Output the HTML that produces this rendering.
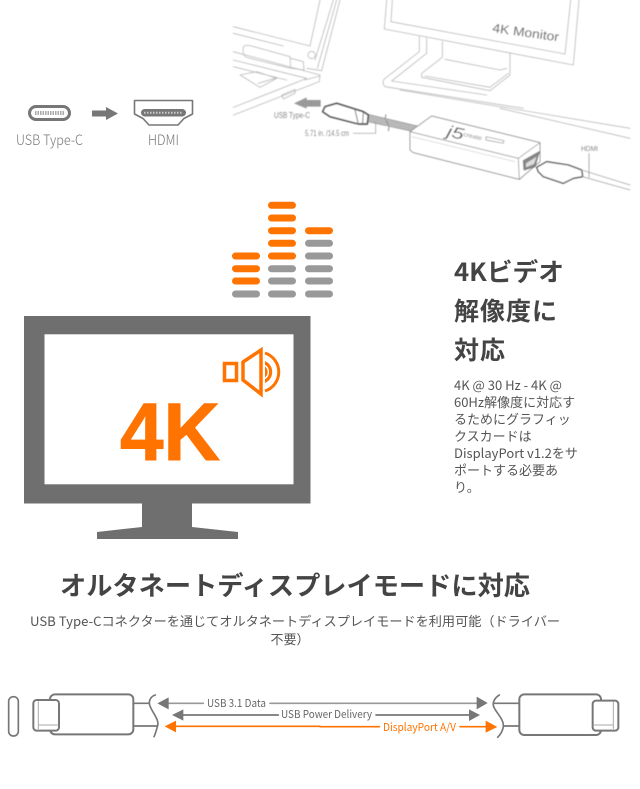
<!DOCTYPE html>
<html lang="ja"><head><meta charset="utf-8"><style>
html,body{margin:0;padding:0;background:#fff}
svg{display:block}
.j{font-family:"Noto Sans CJK JP","Liberation Sans",sans-serif}
.l{font-family:"Liberation Sans","Noto Sans CJK JP",sans-serif}
</style></head><body>
<svg width="640" height="789" viewBox="0 0 640 789" xmlns="http://www.w3.org/2000/svg">
<defs><filter id="b" x="-5%" y="-5%" width="110%" height="110%"><feGaussianBlur stdDeviation="0.4"/></filter>
<filter id="s" x="-5%" y="-5%" width="110%" height="110%"><feGaussianBlur stdDeviation="0.25"/></filter></defs>
<rect width="640" height="789" fill="#fff"/>

<!-- USB-C to HDMI -->
<g filter="url(#s)">
<rect x="29.500" y="106.500" width="40" height="13" rx="6.500" fill="#fff" stroke="#777" stroke-width="3"/>
<line x1="35" y1="113" x2="64" y2="113" stroke="#aaa" stroke-width="4" stroke-dasharray="1.500 1"/>
<path d="M92 110.500H106V107L118 113.500L106 120V116.500H92Z" fill="#777"/>
<path d="M134.500 100.500H192.500V114L184 118.500L178 125H149L143 118.500L134.500 114Z" fill="#fff" stroke="#777" stroke-width="1.600" stroke-linejoin="round"/>
<rect x="141" y="109" width="45" height="7.500" rx="3.700" fill="#777"/>
<line x1="144" y1="112.700" x2="183" y2="112.700" stroke="#ccc" stroke-width="2" stroke-dasharray="1.500 1.500"/>
<text x="16" y="145" font-size="14" fill="#777" class="j" font-weight="300" textLength="67" lengthAdjust="spacingAndGlyphs">USB Type-C</text>
<text x="148" y="145" font-size="14" fill="#777" class="j" font-weight="300" textLength="31" lengthAdjust="spacingAndGlyphs">HDMI</text>
</g>

<!-- Top-right line art -->
<g filter="url(#b)">
<!-- laptop -->
<g transform="translate(230,0) scale(.33333)" fill="none" stroke="#bbb" stroke-width="2.500" stroke-linejoin="round" stroke-linecap="round">
  <path d="M270 0L240 138L10 80M10 100L160 138M330 0L275 212L230 205M320 0L262 205M310 0L255 180"/>
  <circle cx="245" cy="165" r="11"/>
  <path d="M40 142C42 136 50 135 60 137L180 170L182 205L50 172C40 168 38 155 40 142Z" fill="#fff"/>
  <path d="M182 175L220 185L222 210L185 205"/>
  <path d="M10 155L270 225L268 245L10 345M10 180L230 235L10 322M10 200L170 240M30 225L80 215L140 235L90 262ZM85 250L135 235M155 285L195 268V280L160 297Z"/>
  <path d="M225 240L268 228" />
</g>
<g transform="translate(230,0) scale(.33333)" stroke-linejoin="round" stroke-linecap="round">
  <path d="M192 310L230 292V300H272V320H230V326Z" fill="#999"/>
  <path d="M415 343L562 378L556 396L412 365Z" fill="#b8b8b8" stroke="#999" stroke-width="2"/>
  <path d="M285 320L320 310L400 335L415 345L412 372L385 372L300 350L278 335Z" fill="#fff" stroke="#555" stroke-width="5"/>
  <path d="M375 330L385 372M400 338L398 370" fill="none" stroke="#777" stroke-width="3"/>
  <path d="M468 345C460 360 482 372 475 392" fill="#fff" stroke="#888" stroke-width="3"/>
  <path d="M370 400H437V365" fill="none" stroke="#999" stroke-width="2"/>
</g>
<!-- monitor -->
<g transform="translate(380,0) scale(.33333)" fill="none" stroke="#bbb" stroke-width="2.500" stroke-linejoin="round" stroke-linecap="round">
  <path d="M20 0L13 87L580 195L597 0M37 0L33 65L555 162L572 0"/>
  <path d="M118 108V155L12 238Q5 250 15 260L430 325M140 115V160L35 243L320 285M187 125V172L125 220V232L330 272L390 225V160M195 178L360 210L380 205M135 228L330 262L385 220"/>
</g>
<!-- adapter -->
<g transform="translate(400,90) scale(.33333)" stroke-linejoin="round" stroke-linecap="round">
  <path d="M0 0L690 115M300 55L690 145" fill="none" stroke="#bbb" stroke-width="2.500"/>
  <path d="M95 78L420 158V215L358 268L40 188L30 180V125Z" fill="#fff" stroke="#999" stroke-width="3"/>
  <path d="M30 125L355 205L420 158M355 205L358 268" fill="none" stroke="#999" stroke-width="2.500"/>
  <path d="M36 140L345 215" fill="none" stroke="#ccc" stroke-width="2"/>
  <path d="M370 212L418 185L405 230L372 240Z" fill="#888" stroke="#777" stroke-width="3"/>
  <path d="M378 220L410 200L402 222L378 232Z" fill="#ddd"/>
  <path d="M258 140L312 152L310 160L258 150Z" fill="none" stroke="#888" stroke-width="2"/>
  <path d="M410 232L440 215L505 225L545 240L548 260L520 265L490 280L430 260L415 245Z" fill="#fff" stroke="#555" stroke-width="4"/>
  <path d="M545 240L690 285M548 260L690 300" fill="none" stroke="#aaa" stroke-width="2.500"/>
  <path d="M567 190V262" fill="none" stroke="#888" stroke-width="2"/>
</g>
<g class="l" fill="#888">
  <text x="274" y="118" font-size="8" textLength="36" lengthAdjust="spacingAndGlyphs">USB Type-C</text>
  <text x="305" y="136" font-size="8" textLength="44" lengthAdjust="spacingAndGlyphs">5.71 in. /14.5 cm</text>
  <text x="581" y="151" font-size="7.500" textLength="17" lengthAdjust="spacingAndGlyphs">HDMI</text>
  <text x="492" y="32" font-size="12.500" fill="#777" transform="rotate(8 492 32)" textLength="67" lengthAdjust="spacingAndGlyphs">4K Monitor</text>
  <text x="446" y="136" font-size="16" font-style="italic" fill="#666" transform="rotate(13 446 136)" textLength="17" lengthAdjust="spacingAndGlyphs">j5</text>
  <text x="463" y="136" font-size="6" fill="#888" transform="rotate(13 463 136)" textLength="19" lengthAdjust="spacingAndGlyphs">create</text>
</g>
</g>

<!-- Level meter -->
<g fill="#999">
  <rect x="232" y="290.500" width="28" height="7" rx="3.500"/>
  <rect x="268" y="265.200" width="28" height="7" rx="3.500"/><rect x="268" y="277.500" width="28" height="7" rx="3.500"/><rect x="268" y="290.500" width="28" height="7" rx="3.500"/>
  <rect x="305" y="239.800" width="28" height="7" rx="3.500"/><rect x="305" y="252.500" width="28" height="7" rx="3.500"/><rect x="305" y="265.200" width="28" height="7" rx="3.500"/><rect x="305" y="277.500" width="28" height="7" rx="3.500"/><rect x="305" y="290.500" width="28" height="7" rx="3.500"/>
</g>
<g fill="#ff7300">
  <rect x="232" y="252.500" width="28" height="7" rx="3.500"/><rect x="232" y="265.200" width="28" height="7" rx="3.500"/><rect x="232" y="277.500" width="28" height="7" rx="3.500"/>
  <rect x="268" y="201.800" width="28" height="7" rx="3.500"/><rect x="268" y="214.500" width="28" height="7" rx="3.500"/><rect x="268" y="227.200" width="28" height="7" rx="3.500"/><rect x="268" y="239.800" width="28" height="7" rx="3.500"/><rect x="268" y="252.500" width="28" height="7" rx="3.500"/>
  <rect x="305" y="227.200" width="28" height="7" rx="3.500"/>
</g>

<!-- Monitor -->
<rect x="24" y="316" width="286.500" height="187.500" fill="#706f6f"/>
<rect x="44.500" y="334.300" width="249" height="150" fill="#fff"/>
<path d="M142 503H192V527L238 532V539H97V532L142 527Z" fill="#706f6f"/>
<text x="120" y="460" font-size="82" font-weight="bold" fill="#ff7300" stroke="#ff7300" stroke-width="1" font-family="Liberation Sans, sans-serif" textLength="100" lengthAdjust="spacingAndGlyphs">4K</text>
<rect x="224.500" y="363.500" width="12" height="17" fill="none" stroke="#ff7300" stroke-width="3.500"/>
<path d="M243 362L261 350V394L243 380Z" fill="none" stroke="#ff7300" stroke-width="3.500"/>
<path d="M265 353A20 20 0 0 1 265 391" fill="none" stroke="#ff7300" stroke-width="3"/>
<path d="M265 361A12 12 0 0 1 265 383Z" fill="#ff7300"/>
<path d="M265 365.500A8 8 0 0 1 265 378.500" fill="none" stroke="#fff" stroke-width="1.500"/>

<!-- Right copy -->
<g class="j" font-size="25" font-weight="700" fill="#444">
  <text x="454" y="281" textLength="110" lengthAdjust="spacingAndGlyphs">4Kビデオ</text>
  <text x="454" y="320" textLength="103">解像度に</text>
  <text x="454" y="359" textLength="51">対応</text>
</g>
<g class="j" font-size="13" fill="#555">
  <text x="454" y="390">4K @ 30 Hz - 4K @</text>
  <text x="454" y="407">60Hz解像度に対応す</text>
  <text x="454" y="424">るためにグラフィッ</text>
  <text x="454" y="441">クスカードは</text>
  <text x="454" y="458">DisplayPort v1.2をサ</text>
  <text x="454" y="475">ポートする必要あ</text>
  <text x="454" y="492">り。</text>
</g>

<!-- Alt mode copy -->
<text x="60" y="595" class="j" font-size="26" font-weight="700" fill="#444" textLength="470" lengthAdjust="spacingAndGlyphs">オルタネートディスプレイモードに対応</text>
<text x="30" y="626" class="j" font-size="13" fill="#555" textLength="530" lengthAdjust="spacingAndGlyphs">USB Type-Cコネクターを通じてオルタネートディスプレイモードを利用可能（ドライバー</text>
<text x="290" y="644" text-anchor="middle" class="j" font-size="13" fill="#555">不要）</text>

<!-- Cable diagram left -->
<g filter="url(#s)">
<g transform="translate(0,680) scale(.33333)" fill="none" stroke-linecap="round" stroke-linejoin="round">
  <rect x="26" y="50" width="29" height="118" rx="14" fill="#fff" stroke="#777" stroke-width="5"/>
  <path d="M400 70H445M400 138H472" stroke="#777" stroke-width="5"/>
  <path d="M466 45C450 50 445 65 450 78C458 100 480 120 472 140C468 155 465 165 462 170" stroke="#777" stroke-width="5"/>
  <rect x="150" y="43" width="250" height="120" rx="15" fill="#fff" stroke="#777" stroke-width="6"/>
  <rect x="100" y="60" width="77" height="92" rx="10" fill="#fff" stroke="#777" stroke-width="6"/>
  <path d="M115 65V146M115 135H175" stroke="#aaa" stroke-width="3"/>
  <path d="M505 70H610M810 70H960" stroke="#999" stroke-width="5"/>
  <path d="M550 105H835" stroke="#777" stroke-width="5"/>
  <path d="M525 139H960" stroke="#ff7300" stroke-width="5"/>
  <path d="M472 70L506 52V88Z" fill="#777" stroke="none"/>
  <path d="M516 105L550 88V122Z" fill="#777" stroke="none"/>
  <path d="M494 139L528 122V157Z" fill="#ff7300" stroke="none"/>
</g>
<!-- Cable diagram right -->
<g transform="translate(320,680) scale(.33333)" fill="none" stroke-linecap="round" stroke-linejoin="round">
  <path d="M520 70H598M552 138H598" stroke="#777" stroke-width="5"/>
  <path d="M538 45C522 55 516 70 522 82C530 100 552 118 550 140C548 155 540 165 533 172" stroke="#777" stroke-width="5"/>
  <rect x="598" y="43" width="245" height="122" rx="15" fill="#fff" stroke="#777" stroke-width="6"/>
  <rect x="818" y="62" width="77" height="90" rx="10" fill="#fff" stroke="#777" stroke-width="6"/>
  <path d="M880 65V146M820 135H880" stroke="#aaa" stroke-width="3"/>
  <path d="M0 70H475" stroke="#999" stroke-width="5"/>
  <path d="M168 105H450" stroke="#777" stroke-width="5"/>
  <path d="M0 140H178M420 140H500" stroke="#ff7300" stroke-width="5"/>
  <path d="M503 69L470 50V88Z" fill="#777" stroke="none"/>
  <path d="M480 105L447 88V123Z" fill="#777" stroke="none"/>
  <path d="M532 141L497 122V158Z" fill="#ff7300" stroke="none"/>
</g>
<g class="j" font-size="11">
  <text x="207" y="707" fill="#666" textLength="59" lengthAdjust="spacingAndGlyphs">USB 3.1 Data</text>
  <text x="281" y="718" fill="#666" textLength="91" lengthAdjust="spacingAndGlyphs">USB Power Delivery</text>
  <text x="383" y="731" fill="#ff7300" textLength="73" lengthAdjust="spacingAndGlyphs">DisplayPort A/V</text>
</g>
</g>
</svg>
</body></html>
